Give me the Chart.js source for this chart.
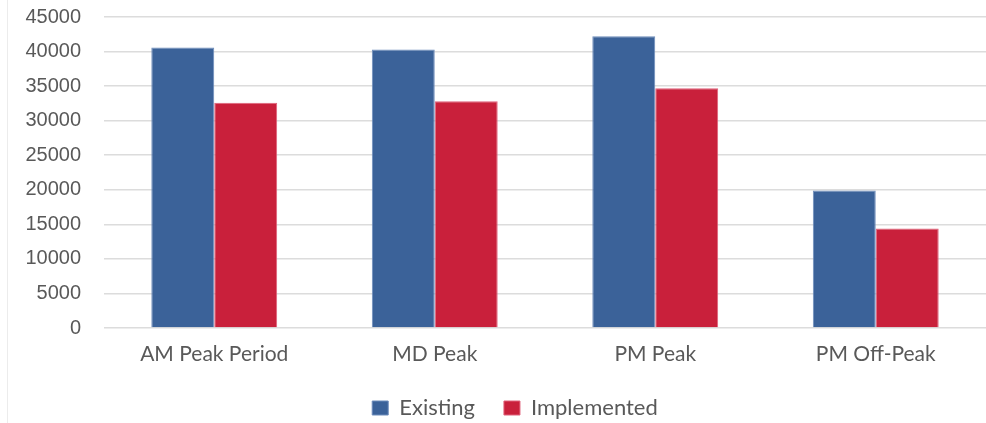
<!DOCTYPE html>
<html>
<head>
<meta charset="utf-8">
<script src="https://cdn.jsdelivr.net/npm/chart.js@4.4.1/dist/chart.umd.min.js"></script>
<style>
  html, body { margin: 0; padding: 0; background: #ffffff; }
  #wrap { position: relative; width: 986px; height: 423px; }
  #edge { position: absolute; left: 7px; top: 0; width: 1px; height: 423px; background: #ececec; }
</style>
</head>
<body>
<div id="wrap">
  <canvas id="chart" width="986" height="423"></canvas>
  <div id="edge"></div>
</div>
<script>
// Time periods and volumes for each scenario
const periods = ["AM Peak Period", "MD Peak", "PM Peak", "PM Off-Peak"];
const existing = [40600, 40300, 42200, 19900];
const implemented = [32600, 32800, 34700, 14400];
const yTicks = [0, 5000, 10000, 15000, 20000, 25000, 30000, 35000, 40000, 45000];

const blue = "#3b6299";
const red = "#c9203b";
const textGrey = "#595959";

// The legend row sits a little right of the canvas centre
const legendShift = {
  id: "legendShift",
  afterLayout(chart) {
    if (chart.legend) chart.legend.left = 44;
  }
};

new Chart(document.getElementById("chart"), {
  type: "bar",
  data: {
    labels: periods,
    datasets: [
      { label: "Existing", data: existing, backgroundColor: blue, borderColor: "#6d8cbb", borderWidth: 1 },
      { label: "Implemented", data: implemented, backgroundColor: red, borderColor: "#e0607a", borderWidth: 1 }
    ]
  },
  plugins: [legendShift],
  options: {
    responsive: false,
    animation: false,
    layout: { padding: { top: 17, right: 0, left: 0, bottom: -6 } },
    datasets: { bar: { barPercentage: 1, categoryPercentage: 0.571 } },
    plugins: {
      tooltip: { enabled: false },
      legend: {
        position: "bottom",
        labels: {
          font: { family: "Lato", size: 22 },
          color: textGrey,
          boxWidth: 16,
          boxHeight: 14,
          padding: 29
        }
      }
    },
    scales: {
      x: {
        afterFit: (s) => { s.height = 40; },
        grid: { display: false },
        border: { display: false },
        ticks: { font: { family: "Lato", size: 21 }, color: textGrey, padding: 6 }
      },
      y: {
        min: 0,
        max: 45000,
        afterFit: (s) => { s.width = 104; },
        afterBuildTicks: (s) => { s.ticks = yTicks.map(v => ({ value: v })); },
        grid: { color: "#dcdcdc", lineWidth: 1.5, drawTicks: true, tickLength: 23, tickColor: "rgba(0,0,0,0)" },
        border: { display: false },
        ticks: {
          font: { family: "Liberation Sans", size: 20 },
          color: textGrey,
          padding: 0,
          callback: (v) => String(v)
        }
      }
    }
  }
});
</script>
</body>
</html>
